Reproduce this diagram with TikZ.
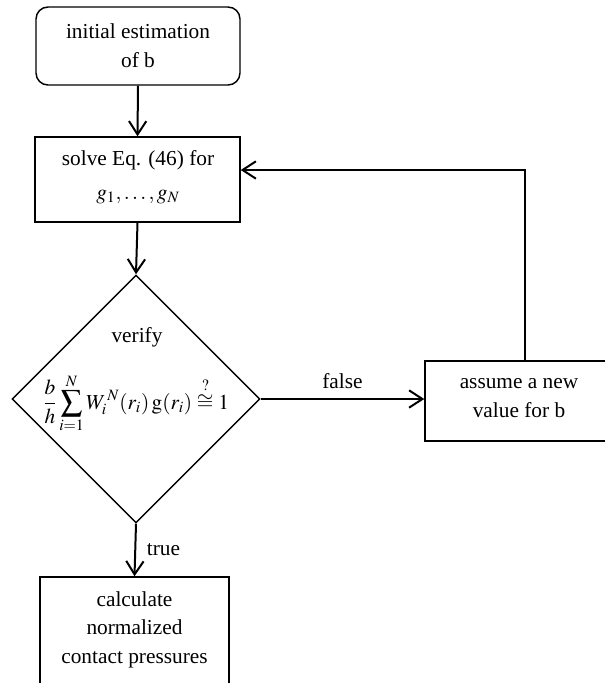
\documentclass[tikz,border=0pt]{standalone}
\usepackage{mathptmx}
\usepackage[no-math]{fontspec}
\setmainfont{Liberation Serif}
\usetikzlibrary{arrows.meta,shapes.geometric}

\tikzset{
  box/.style={draw, line width=1.1pt, inner sep=0pt, align=center},
  label/.style={inner sep=0pt, font=\fontsize{16}{21.5}\selectfont, align=center},
  flow/.style={line width=1.5pt, -{Straight Barb[length=10pt,width=13pt,line width=1.5pt]}},
}

\begin{document}
\begin{tikzpicture}[x=0.75pt,y=-0.75pt]
  \useasboundingbox (0,0) rectangle (605,683);
  \clip (0,0) rectangle (605,683);

  % start
  \node[box, rounded corners=9pt, minimum width=153pt, minimum height=58.5pt] (start) at (138,46) {};
  \node[label] (starttxt) at (138,46) {initial estimation\\of b};

  % solve step
  \node[box, minimum width=153.75pt, minimum height=63.75pt] (solve) at (137.5,179.5) {};
  \node[label, anchor=base] (solve1) at (138,165) {solve Eq. (46) for};
  \node[label, anchor=base] (solve2) at (138,199) {$g_1,\ldots,g_N$};

  % decision
  \node[draw, line width=1.1pt, shape=diamond, inner sep=0pt, minimum width=186pt, minimum height=186pt] (dec) at (136,399) {};
  \node[label, anchor=base] (verify) at (137,342) {verify};
  \node[label, anchor=base] (formula) at (136,409)
    {$\displaystyle \frac{b}{h}\sum_{i=1}^{N} W_{i}^{\,N}(r_{i})\,\mathrm{g}(r_{i})\stackrel{?}{\cong}1$};

  % new value of b
  \node[box, minimum width=141.75pt, minimum height=60pt] (assume) at (519.5,401) {};
  \node[label] (assumetxt) at (519,398) {assume a new\\value for b};

  % result
  \node[box, minimum width=141.75pt, minimum height=112.5pt] (calc) at (134.5,652) {};
  \node[label, anchor=base] (calc1) at (134.5,606) {calculate};
  \node[label, anchor=base] (calc2) at (134.5,634) {normalized};
  \node[label, anchor=base] (calc3) at (134.5,663) {contact pressures};

  % connectors
  \draw[flow] (start.south) -- (solve.north);
  \draw[flow] (solve.south) -- (dec.north);
  \draw[flow] (dec.east) -- (dec.east -| assume.west)
    node[label, midway, above=7pt] (falsetxt) {false};
  \coordinate (turn) at (525,170);
  \draw[flow] (assume.north -| turn) -- (turn) -- (turn -| solve.east);
  \draw[flow] (dec.south) -- (calc.north)
    node[label, midway, right=8pt] (truetxt) {true};
\end{tikzpicture}
\end{document}
